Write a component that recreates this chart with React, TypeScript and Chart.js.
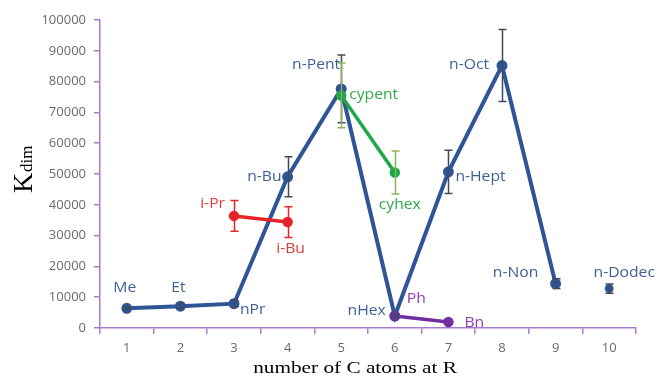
import React, { useEffect, useRef } from "react";
import { Chart, registerables } from "chart.js";
Chart.register(...registerables);

const categories = ["1", "2", "3", "4", "5", "6", "7", "8", "9", "10"];
const nAlkyl = [6400, 7100, 7900, 49100, 77600, 3900, 50700, 85200, 14400, null];
const nAlkylErr = [300, 800, 1000, 6500, 11000, 500, 7000, 11700, 1600, 0];
const nDodec = [null, null, null, null, null, null, null, null, null, 12800];
const nDodecErr = [0, 0, 0, 0, 0, 0, 0, 0, 0, 1500];
const isoAlkyl = [null, null, 36400, 34400, null, null, null, null, null, null];
const isoAlkylErr = [0, 0, 5000, 5000, 0, 0, 0, 0, 0, 0];
const cycloAlkyl = [null, null, null, null, 75500, 50500, null, null, null, null];
const cycloAlkylErr = [0, 0, 0, 0, 10500, 7000, 0, 0, 0, 0];
const aryl = [null, null, null, null, null, 3900, 1950, null, null, null];
const yMin = 0;
const yMax = 100000;
const yStep = 10000;

const BLUE = "#2F5597";
const RED = "#E8232A";
const GREEN = "#1FA84A";
const PURPLE = "#7030A0";
const AXIS = "#A77BD0";

const errorSets = [
  { values: nAlkyl, err: nAlkylErr, color: "#3E4A5E" },
  { values: nDodec, err: nDodecErr, color: "#3E4A5E" },
  { values: isoAlkyl, err: isoAlkylErr, color: RED },
  { values: cycloAlkyl, err: cycloAlkylErr, color: "#8DB35A" },
];

const seriesByName: Record<string, (number | null)[]> = {
  nAlkyl,
  nDodec,
  isoAlkyl,
  cycloAlkyl,
  aryl,
};

// point labels: text, series, category index, offset and alignment
const pointLabels = [
  { text: "Me", series: "nAlkyl", index: 0, dx: -2, dy: -20, align: "center", color: "#3F5E96" },
  { text: "Et", series: "nAlkyl", index: 1, dx: -2, dy: -18, align: "center", color: "#3F5E96" },
  { text: "nPr", series: "nAlkyl", index: 2, dx: 6, dy: 6, align: "left", color: "#3F5E96" },
  { text: "n-Bu", series: "nAlkyl", index: 3, dx: -6, dy: 0, align: "right", color: "#3F5E96" },
  { text: "n-Pent", series: "nAlkyl", index: 4, dx: -1, dy: -24, align: "right", color: "#3F5E96" },
  { text: "nHex", series: "nAlkyl", index: 5, dx: -9, dy: -5, align: "right", color: "#3F5E96" },
  { text: "n-Hept", series: "nAlkyl", index: 6, dx: 7, dy: 5, align: "left", color: "#3F5E96" },
  { text: "n-Oct", series: "nAlkyl", index: 7, dx: -13, dy: -1, align: "right", color: "#3F5E96" },
  { text: "n-Non", series: "nAlkyl", index: 8, dx: -40, dy: -11, align: "center", color: "#3F5E96" },
  { text: "n-Dodec", series: "nDodec", index: 9, dx: 15, dy: -16, align: "center", color: "#3F5E96" },
  { text: "i-Pr", series: "isoAlkyl", index: 2, dx: -9, dy: -12, align: "right", color: "#E03A3A" },
  { text: "i-Bu", series: "isoAlkyl", index: 3, dx: 3, dy: 27, align: "center", color: "#E03A3A" },
  { text: "cypent", series: "cycloAlkyl", index: 4, dx: 8, dy: 0, align: "left", color: "#2BAA4F" },
  { text: "cyhex", series: "cycloAlkyl", index: 5, dx: 5, dy: 33, align: "center", color: "#2BAA4F" },
  { text: "Ph", series: "aryl", index: 5, dx: 12, dy: -17, align: "left", color: "#8A3FB0" },
  { text: "Bn", series: "aryl", index: 6, dx: 16, dy: 1, align: "left", color: "#8A3FB0" },
];

const xTitle = "number of C atoms at R";
const yTitleMain = "K";
const yTitleSub = "dim";

const overlayPlugin = {
  id: "overlay",
  afterDatasetsDraw(chart: any) {
    const ctx = chart.ctx as CanvasRenderingContext2D;
    const xs = chart.scales.x;
    const ys = chart.scales.y;
    ctx.save();
    // error bars
    errorSets.forEach((s) => {
      ctx.strokeStyle = s.color;
      ctx.lineWidth = 1.5;
      s.values.forEach((v, i) => {
        const e = s.err[i];
        if (v == null || !e) return;
        const px = Math.round(xs.getPixelForValue(i)) + 0.5;
        const top = ys.getPixelForValue(v + e);
        const bot = ys.getPixelForValue(v - e);
        ctx.beginPath();
        ctx.moveTo(px, top);
        ctx.lineTo(px, bot);
        ctx.moveTo(px - 4, top);
        ctx.lineTo(px + 4, top);
        ctx.moveTo(px - 4, bot);
        ctx.lineTo(px + 4, bot);
        ctx.stroke();
      });
    });
    // point labels
    ctx.font = "14px 'Open Sans'";
    ctx.textBaseline = "middle";
    const sx = 1.12;
    pointLabels.forEach((l) => {
      const v = seriesByName[l.series][l.index];
      if (v == null) return;
      const px = xs.getPixelForValue(l.index) + l.dx;
      const py = ys.getPixelForValue(v) + l.dy;
      ctx.save();
      ctx.translate(px, py);
      ctx.scale(sx, 1);
      ctx.fillStyle = l.color;
      ctx.textAlign = l.align as CanvasTextAlign;
      ctx.fillText(l.text, 0, 0);
      ctx.restore();
    });
    // axis titles
    ctx.fillStyle = "#000";
    ctx.save();
    ctx.translate((chart.chartArea.left + chart.chartArea.right) / 2 - 13, 373);
    ctx.scale(1.25, 1);
    ctx.font = "17px 'Liberation Serif', 'Times New Roman', serif";
    ctx.textAlign = "center";
    ctx.textBaseline = "alphabetic";
    ctx.fillText(xTitle, 0, 0);
    ctx.restore();

    ctx.save();
    ctx.translate(32, 193);
    ctx.rotate(-Math.PI / 2);
    ctx.textAlign = "left";
    ctx.textBaseline = "alphabetic";
    ctx.font = "28px 'Liberation Serif', 'Times New Roman', serif";
    ctx.fillText(yTitleMain, 0, 0);
    ctx.font = "17px 'Liberation Serif', 'Times New Roman', serif";
    ctx.fillText(yTitleSub, 21, 0);
    ctx.restore();
    ctx.restore();
  },
};

export default function App() {
  const ref = useRef<HTMLCanvasElement | null>(null);
  useEffect(() => {
    document.body.style.margin = "0";
    const canvas = ref.current;
    if (!canvas) return;
    const pointCommon = { pointRadius: 3.5, pointHoverRadius: 3.5, spanGaps: false };
    const chart = new Chart(canvas, {
      type: "line",
      data: {
        labels: categories,
        datasets: [
          {
            data: isoAlkyl,
            borderColor: RED,
            backgroundColor: RED,
            borderWidth: 3.5,
            order: 1,
            ...pointCommon,
          },
          {
            data: cycloAlkyl,
            borderColor: GREEN,
            backgroundColor: GREEN,
            borderWidth: 3.5,
            order: 1,
            ...pointCommon,
          },
          {
            data: aryl,
            borderColor: PURPLE,
            backgroundColor: PURPLE,
            borderWidth: 3.5,
            order: 1,
            ...pointCommon,
          },
          {
            data: nDodec,
            borderColor: BLUE,
            backgroundColor: BLUE,
            showLine: false,
            order: 3,
            ...pointCommon,
            pointRadius: 4,
          },
          {
            data: nAlkyl,
            borderColor: BLUE,
            backgroundColor: BLUE,
            borderWidth: 4,
            order: 5,
            ...pointCommon,
          },
        ] as any,
      },
      options: {
        responsive: false,
        animation: false,
        events: [],
        layout: { padding: { left: 0, right: 22, top: 20, bottom: 0 } },
        plugins: {
          legend: { display: false },
          tooltip: { enabled: false },
        },
        scales: {
          x: {
            type: "category",
            offset: true,
            grid: {
              offset: true,
              drawOnChartArea: false,
              drawTicks: true,
              tickLength: 6,
              color: AXIS,
              lineWidth: 1.5,
            },
            border: { color: AXIS, width: 1.5 },
            ticks: {
              color: "#6B6B6B",
              font: { family: "'Open Sans'", size: 13 },
              padding: 6,
              maxRotation: 0,
            },
            afterFit(scale: any) {
              scale.height = 55;
            },
          },
          y: {
            min: yMin,
            max: yMax,
            grid: {
              drawOnChartArea: false,
              drawTicks: true,
              tickLength: 6,
              color: AXIS,
              lineWidth: 1.5,
            },
            border: { color: AXIS, width: 1.5 },
            ticks: {
              stepSize: yStep,
              color: "#6B6B6B",
              font: { family: "'Open Sans'", size: 13 },
              padding: 8,
              callback: (v: any) => String(v),
            },
            afterFit(scale: any) {
              scale.width = 100;
            },
          },
        },
      },
      plugins: [overlayPlugin],
    });
    return () => chart.destroy();
  }, []);
  return (
    <div style={{ width: 658, height: 383 }}>
      <canvas ref={ref} width={658} height={383} />
    </div>
  );
}
